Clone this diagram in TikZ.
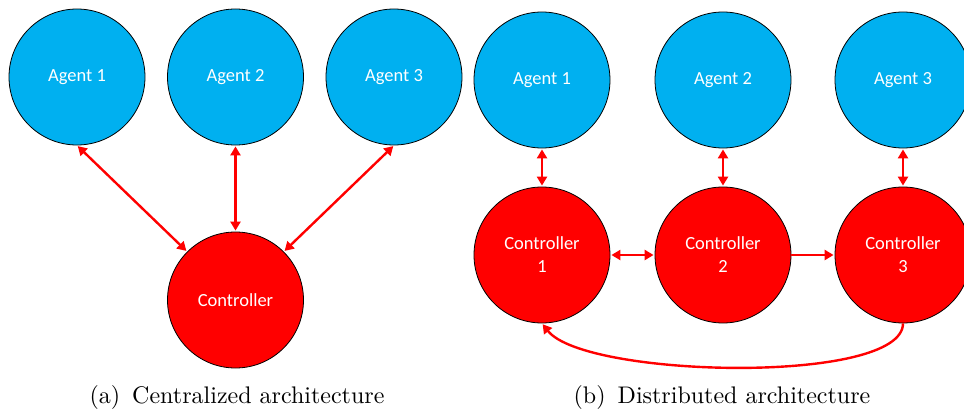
\documentclass[tikz,border=0pt]{standalone}
\usepackage{fontspec}
\newfontfamily\nodefont{Carlito}
\newfontfamily\capfont{lmroman10-regular.otf}
\usetikzlibrary{arrows.meta}
\definecolor{agentblue}{HTML}{00B0F0}
\definecolor{ctrlred}{HTML}{FF0000}
\tikzset{
  agent/.style={circle,draw=black,line width=0.8pt,fill=agentblue,minimum size=136pt,inner sep=0pt,
    text=white,font=\nodefont\fontsize{18.5}{23}\selectfont,align=center},
  ctrl/.style={agent,fill=ctrlred},
  link/.style={draw=ctrlred,line width=2.4pt,
    arrows={Triangle[length=9pt,width=10pt]-Triangle[length=9pt,width=10pt]},shorten <=1pt,shorten >=1pt},
  onelink/.style={draw=ctrlred,line width=2.4pt,-{Triangle[length=9pt,width=10pt]},shorten >=1pt},
  caption/.style={font=\capfont\fontsize{24}{28}\selectfont,anchor=base,inner sep=0pt}
}
\begin{document}
\begin{tikzpicture}[x=1pt,y=-1pt]
\useasboundingbox (0,0) rectangle (964,412);
% (a) centralized
\node[agent] (a1) at (77,77) {Agent 1};
\node[agent] (a2) at (235.5,77) {Agent 2};
\node[agent] (a3) at (394,77) {Agent 3};
\node[ctrl] (c) at (235.5,300) {Controller};
\draw[link] (a1.south) -- (c.north west);
\draw[link] (a2.south) -- (c.north);
\draw[link] (a3.south) -- (c.north east);
\node[caption] (capa) at (237,403) {(a)\enspace Centralized architecture};
% (b) distributed
\node[agent] (b1) at (542,80) {Agent 1};
\node[agent] (b2) at (723,80) {Agent 2};
\node[agent] (b3) at (903,80) {Agent 3};
\node[ctrl] (d1) at (542,255) {Controller\\1};
\node[ctrl] (d2) at (723,255) {Controller\\2};
\node[ctrl] (d3) at (903,255) {Controller\\3};
\draw[link] (b1.south) -- (d1.north);
\draw[link] (b2.south) -- (d2.north);
\draw[link] (b3.south) -- (d3.north);
\draw[link] (d1.east) -- (d2.west);
\draw[onelink] (d2.east) -- (d3.west);
\draw[onelink] (d3.south) .. controls (903,385) and (585,378) .. (d1.south);
\node[caption] (capb) at (722,403) {(b)\enspace Distributed architecture};
\end{tikzpicture}
\end{document}
